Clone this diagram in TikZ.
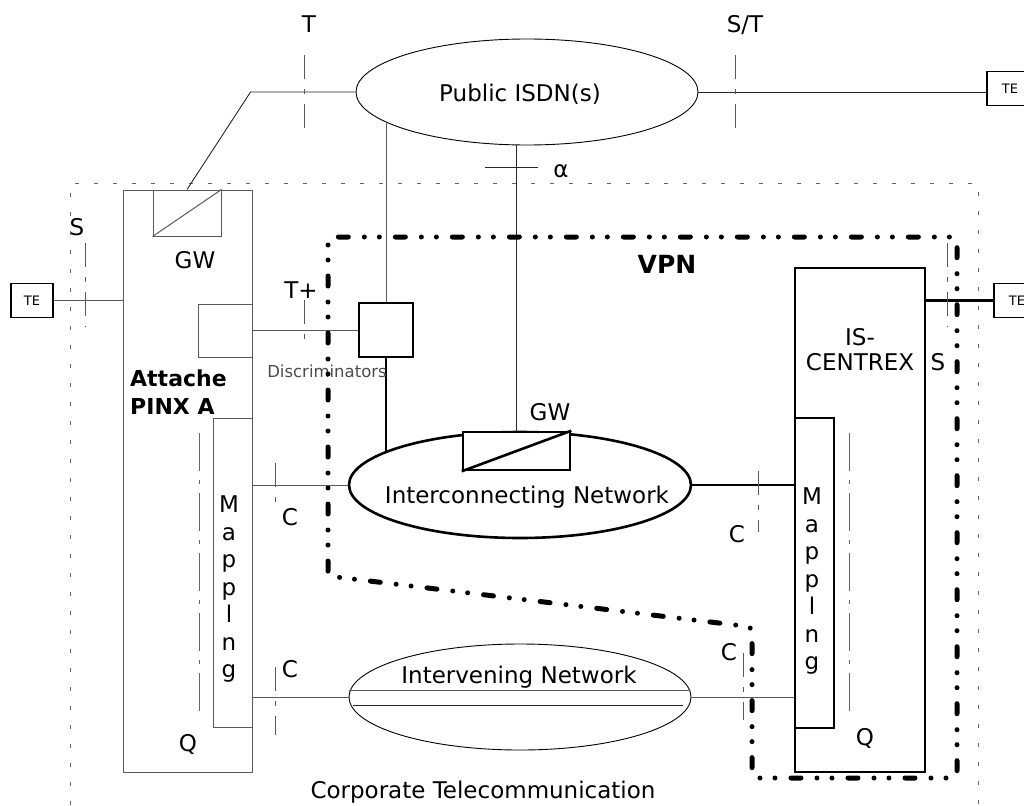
\documentclass[tikz,border=0pt]{standalone}
\usepackage{fontspec}
\setmainfont{DejaVu Sans}
\usetikzlibrary{shapes.geometric}
\usetikzlibrary{positioning}
\usetikzlibrary{calc}

\begin{document}
\begin{tikzpicture}[x=1pt,y=-1pt,
    lbl/.style={font=\fontsize{23}{26}\selectfont,inner sep=0pt,anchor=base},
    plainbox/.style={draw,inner sep=0pt},
    netell/.style={ellipse,draw,minimum width=342pt,minimum height=106pt,inner sep=0pt},
    tebox/.style={draw,line width=1.6pt,minimum width=46pt,minimum height=34pt,inner sep=0pt,font=\fontsize{13}{15}\selectfont},
    slimline/.style={line width=0.9pt,black!85},
    greyline/.style={line width=1pt,black!65},
    thickline/.style={line width=2.6pt},
    refmark/.style={line width=0.9pt,black!65,dash pattern=on 24pt off 10pt on 5pt off 10pt},
    chainline/.style={line width=0.9pt,black!60,dash pattern=on 38pt off 9pt on 4pt off 9pt},
    corpline/.style={line width=0.9pt,black!60,dash pattern=on 4pt off 15pt},
    vpnline/.style={line width=5pt,line cap=round,dash pattern=on 10pt off 16pt on 0pt off 15pt on 0pt off 16pt}]

    \useasboundingbox (0,0) rectangle (1024,805);

    % corporate network boundary
    \draw[corpline] (70,805) -- (70,183) -- (978,183) -- (978,805);

    % networks
    \node[netell,line width=0.9pt] (pub) at (527,92) {};
    \node[lbl] (pubtext) at (520,102) {Public ISDN(s)};
    \node[netell,line width=2.6pt] (icn) at (520,485) {};
    \node[lbl] (icntext) at (527,503) {Interconnecting Network};
    \node[netell,line width=0.9pt] (ivn) at (520,697) {};
    \node[lbl] (ivntext) at (519,683) {Intervening Network};

    % attache PINX A
    \node[plainbox,greyline,minimum width=129pt,minimum height=582pt] (att) at (187.5,481) {};
    \node[plainbox,greyline,minimum width=68pt,minimum height=46pt] (gwl) at (187,213) {};
    \draw[greyline] (gwl.south west) -- (gwl.north east);
    \node[plainbox,greyline,minimum width=54pt,minimum height=53pt] (disc) at (225,330.5) {};
    \node[plainbox,greyline,minimum width=39pt,minimum height=309pt] (mapl) at (232.5,572.5) {};

    % IS-CENTREX
    \node[plainbox,thickline,minimum width=130pt,minimum height=504pt] (isc) at (860,520) {};
    \node[plainbox,thickline,minimum width=39pt,minimum height=310pt] (mapr) at (814.5,573) {};

    % gateways in the VPN
    \node[plainbox,thickline,minimum size=54pt] (sq) at (386,330) {};
    \node[plainbox,thickline,fill=white,minimum width=107pt,minimum height=38pt] (gwc) at (516.5,451) {};
    \draw[thickline] (gwc.south west) -- (gwc.north east);

    % terminals
    \node[tebox] (tetop) at (1010,88.5) {TE};
    \node[tebox,minimum width=42pt] (tel) at (32,300.5) {TE};
    \node[tebox] (teright) at (1017,300.5) {TE};

    % connections
    \draw[slimline] (pub.west) -- ++(-105,0) -- (gwl.north);
    \draw[slimline] (pub.east) -- (pub.east -| tetop.west);
    \draw[greyline] (sq.north) -- (sq.north |- pub.192);
    \draw[slimline] (gwc.north) -- (gwc.north |- pub.south);
    \draw[thickline] (sq.south) -- (sq.south |- icn.166);
    \draw[greyline] (tel.east) -- (tel.east -| att.west);
    \draw[greyline] (sq.west) -- (sq.west -| att.east);
    \draw[greyline] (icn.west) -- (icn.west -| att.east);
    \draw[thickline] (icn.east) -- (icn.east -| mapr.west);
    \draw[greyline] (ivn.west) -- (ivn.west -| att.east);
    \draw[greyline] (ivn.east) -- (ivn.east -| isc.west);
    \draw[thickline] (teright.west) -- (teright.west -| isc.east);
    \draw[greyline] (ivn.west) ++(0,-7) -- ++(341,0);
    \draw[slimline] (ivn.west) ++(4,8) -- ++(330,0);

    % reference points
    \foreach \x/\ya/\yb in {304/55/130, 735/55/130, 85/243/327, 947/243/327, 304/300/348,
                            275/463/510, 758/471/532, 275/667/735, 743/653/720}
        \draw[refmark] (\x,\ya) -- (\x,\yb);
    \foreach \x in {199,849}
        \draw[chainline] (\x,433) -- (\x,715);
    \draw[slimline] (485,167) -- (538,167);

    % labels
    \node[lbl] (lT) at (309,33) {T};
    \node[lbl] (lST) at (745,33) {S/T};
    \node[lbl] (lalpha) at (561,177) {α};
    \node[lbl] (lSl) at (77,235) {S};
    \node[lbl] (lSr) at (938,370) {S};
    \node[lbl] (lTp) at (301,298) {T+};
    \node[lbl] (lCa) at (290,525) {C};
    \node[lbl] (lCb) at (737,542) {C};
    \node[lbl] (lCc) at (290,677) {C};
    \node[lbl] (lCd) at (729,660) {C};
    \node[lbl] (lGWl) at (195,268) {GW};
    \node[lbl] (lGWc) at (550,420) {GW};
    \node[lbl] (lQl) at (188,751) {Q};
    \node[lbl] (lQr) at (865,745) {Q};
    \node[lbl,font=\fontsize{16.5}{19}\selectfont,text=black!70] (ldisc) at (327,377) {Discriminators};
    \node[lbl,font=\fontsize{22}{28}\selectfont\bfseries,anchor=north west,align=left] (latt) at (130,370) {Attache\\PINX A};
    \node[lbl,font=\fontsize{23}{25}\selectfont,anchor=north,align=center] (lisc) at (860,328) {IS-\\CENTREX};
    \node[lbl,font=\fontsize{25}{28}\selectfont\bfseries] (lvpn) at (667,273) {VPN};
    \node[lbl,font=\fontsize{23}{27.5}\selectfont,anchor=north,align=center] (lmapl) at (229,496) {M\\a\\p\\p\\l\\n\\g};
    \node[lbl,font=\fontsize{23}{27.5}\selectfont,anchor=north,align=center] (lmapr) at (812,488) {M\\a\\p\\p\\l\\n\\g};
    \node[lbl] (lcorp) at (483,798) {Corporate Telecommunication};

    % VPN boundary
    \draw[vpnline,rounded corners=5pt] (328,576) -- (328,237) -- (957,237) -- (957,778)
        -- (752,778) -- (752,627) -- cycle;

\end{tikzpicture}
\end{document}
